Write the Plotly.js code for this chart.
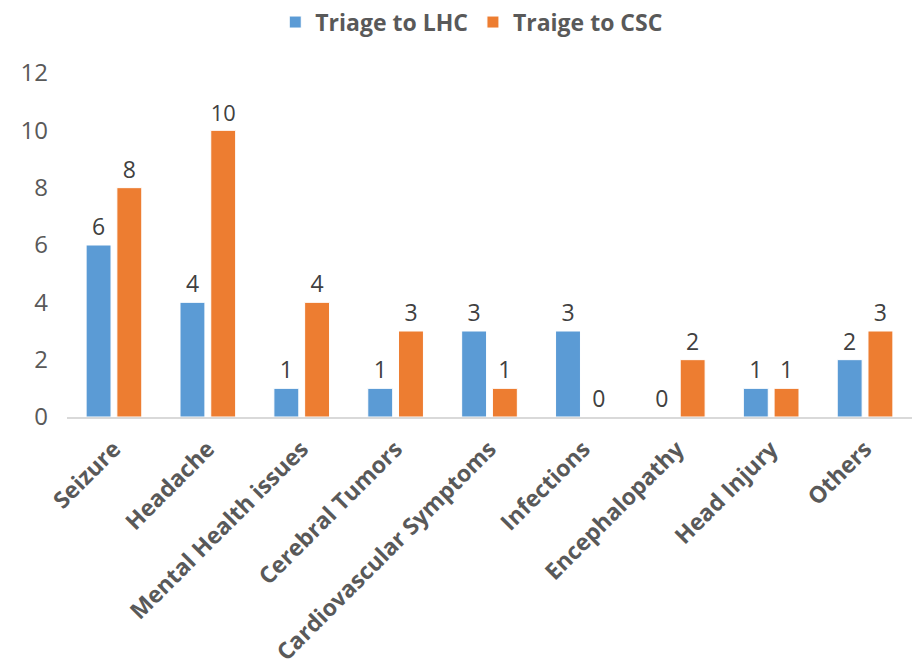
<!DOCTYPE html>
<html><head><meta charset="utf-8">
<script src="https://cdn.plot.ly/plotly-3.0.1.min.js"></script>
<style>html,body{margin:0;padding:0;background:#fff}#chart{width:912px;height:667px}</style>
</head><body><div id="chart"></div>
<script>
const categories = ["Seizure","Headache","Mental Health issues","Cerebral Tumors","Cardiovascular Symptoms","Infections","Encephalopathy","Head Injury","Others"];
const lhcValues = [6,4,1,1,3,3,0,1,2];
const cscValues = [8,10,4,3,1,0,2,1,3];
const seriesNames = ["Triage to LHC","Traige to CSC"];
const yTicks = [0,2,4,6,8,10,12];

const common = {type:"bar", x:categories, textposition:"outside", cliponaxis:false,
  textfont:{family:"Open Sans, sans-serif", size:23, color:"#404040"}};
const data = [
  Object.assign({}, common, {name:seriesNames[0], y:lhcValues, text:lhcValues.map(String), marker:{color:"#5B9BD5", line:{color:"#ffffff",width:1}}}),
  Object.assign({}, common, {name:seriesNames[1], y:cscValues, text:cscValues.map(String), marker:{color:"#ED7D31", line:{color:"#ffffff",width:1}}})
];
const layout = {
  width:912, height:667,
  margin:{l:67, r:0, t:73, b:250, autoexpand:false},
  paper_bgcolor:"#fff", plot_bgcolor:"#fff",
  barmode:"group", bargap:0.345, bargroupgap:0.19,
  showlegend:true,
  legend:{orientation:"h", x:0.479, xanchor:"center", y:1.148, yanchor:"middle",
    font:{family:"Open Sans, sans-serif", size:23, color:"#595959", weight:"bold"}, traceorder:"normal"},
  xaxis:{tickangle:-45, showgrid:false, showline:true, linecolor:"#d9d9d9", linewidth:1.5,
    ticks:"", tickfont:{family:"Open Sans, sans-serif", size:23, color:"#595959", weight:"bold"}, ticklabelstandoff:8},
  yaxis:{range:[0,12], tickvals:yTicks, showgrid:false, zeroline:false, showline:false, ticks:"",
    tickfont:{family:"Open Sans, sans-serif", size:24, color:"#595959"}, ticklabelstandoff:18}
};
Plotly.newPlot("chart", data, layout, {displayModeBar:false, staticPlot:true});
</script></body></html>
